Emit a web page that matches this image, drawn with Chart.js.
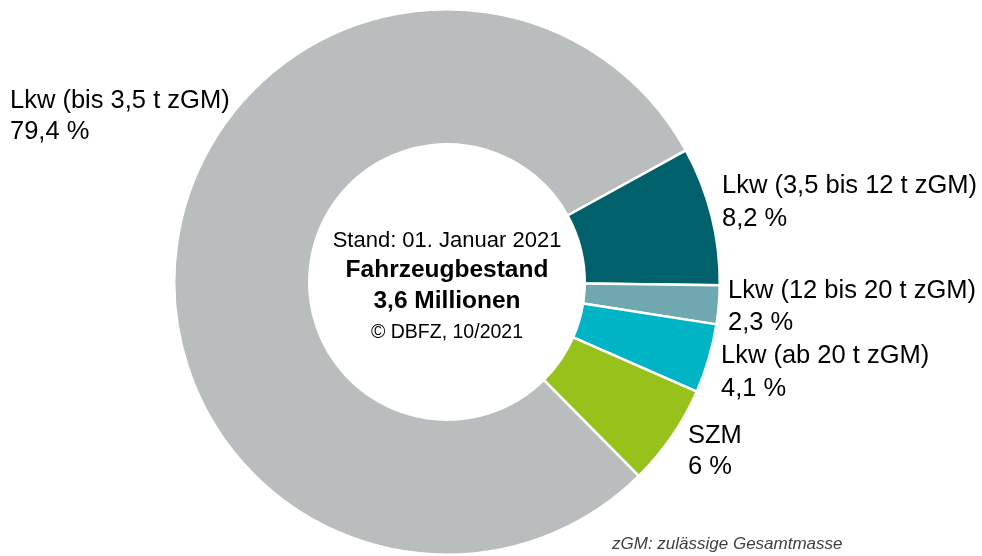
<!DOCTYPE html>
<html lang="de">
<head>
<meta charset="utf-8">
<title>Fahrzeugbestand Lkw</title>
<script src="https://cdn.jsdelivr.net/npm/chart.js@4"></script>
<style>
  html, body { margin: 0; padding: 0; background: #ffffff; }
  .wrap { position: relative; width: 982px; height: 556px; }
</style>
</head>
<body>
<div class="wrap"><canvas id="myGraph"></canvas></div>
<script>
const kategorien = [
  "Lkw (bis 3,5 t zGM)",
  "Lkw (3,5 bis 12 t zGM)",
  "Lkw (12 bis 20 t zGM)",
  "Lkw (ab 20 t zGM)",
  "SZM",
];
const anteile = [79.4, 8.2, 2.3, 4.1, 6];
const anteilText = ["79,4 %", "8,2 %", "2,3 %", "4,1 %", "6 %"];
const mitteText = ["Stand: 01. Januar 2021", "Fahrzeugbestand", "3,6 Millionen", "© DBFZ, 10/2021"];
const fussnote = "zGM: zulässige Gesamtmasse";

const farben = ["#babdbd", "#00616d", "#70a8b2", "#00b4c6", "#97c11b"];
const schrift = '"Liberation Sans", Arial, sans-serif';

// Beschriftungen neben den Segmenten (x, Grundlinie Zeile 1, Grundlinie Zeile 2)
const labelPos = [
  [10, 108, 139],
  [722, 193, 226],
  [728, 298, 330],
  [721, 363, 396],
  [688, 443, 474],
];

const beschriftung = {
  id: "beschriftung",
  afterDraw(chart) {
    const c = chart.ctx;
    const arc = chart.getDatasetMeta(0).data[0];
    const cx = arc.x;
    const cy = arc.y;

    c.save();
    c.fillStyle = "#000000";
    c.textBaseline = "alphabetic";

    // Texte an den Segmenten
    c.textAlign = "left";
    c.font = `25.5px ${schrift}`;
    kategorien.forEach((name, i) => {
      const [x, y1, y2] = labelPos[i];
      c.fillText(name, x, y1);
      c.fillText(anteilText[i], x, y2);
    });

    // Text in der Mitte
    c.textAlign = "center";
    c.font = `22px ${schrift}`;
    c.fillText(mitteText[0], cx, cy - 35);
    c.font = `bold 24.5px ${schrift}`;
    c.fillText(mitteText[1], cx, cy - 5);
    c.fillText(mitteText[2], cx, cy + 26);
    c.font = `19.5px ${schrift}`;
    c.fillText(mitteText[3], cx, cy + 56);

    // Fußnote
    c.textAlign = "left";
    c.fillStyle = "#404040";
    c.font = `italic 17px ${schrift}`;
    c.fillText(fussnote, 612, 549);
    c.restore();
  },
};

const ctx = document.getElementById("myGraph");

new Chart(ctx, {
  type: "doughnut",
  data: {
    labels: kategorien,
    datasets: [
      {
        data: anteile,
        backgroundColor: farben,
        borderColor: "#ffffff",
        borderWidth: 2.5,
      },
    ],
  },
  options: {
    responsive: true,
    maintainAspectRatio: false,
    animation: false,
    rotation: 135.3,
    cutout: "50.5%",
    layout: {
      padding: { top: 8, bottom: 0, left: 0, right: 88 },
    },
    plugins: {
      legend: { display: false },
      tooltip: { enabled: false },
    },
  },
  plugins: [beschriftung],
});
</script>
</body>
</html>
